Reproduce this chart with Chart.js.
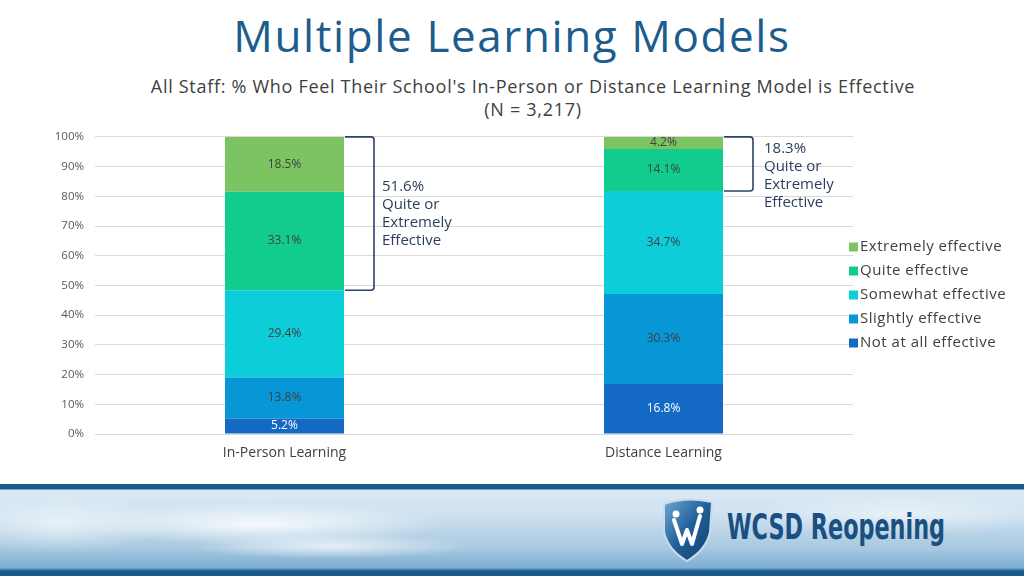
<!DOCTYPE html>
<html>
<head>
<meta charset="utf-8">
<script src="https://cdn.jsdelivr.net/npm/chart.js@4.4.1/dist/chart.umd.min.js"></script>
<style>
  html, body { margin: 0; padding: 0; }
  body { width: 1024px; height: 576px; overflow: hidden; background: #ffffff; position: relative; font-family: "Open Sans", "DejaVu Sans", sans-serif; }
  #title { position: absolute; left: 0; top: 7px; width: 1024px; text-align: center; font-size: 44px; line-height: 56px; color: #1d5d8d; font-weight: 400; letter-spacing: 1.6px; white-space: nowrap; }
  #subtitle { position: absolute; left: 21px; top: 75px; width: 1024px; text-align: center; font-size: 18px; line-height: 23px; color: #404040; letter-spacing: 0.7px; white-space: nowrap; }
  #chartWrap { position: absolute; left: 0; top: 119px; width: 1024px; height: 351px; }
  #footer { position: absolute; left: 0; top: 484px; width: 1024px; height: 92px; overflow: hidden;
    background:
      radial-gradient(ellipse 260px 30px at 260px 40px, rgba(255,255,255,0.85), rgba(255,255,255,0) 70%),
      radial-gradient(ellipse 200px 18px at 330px 62px, rgba(255,255,255,0.7), rgba(255,255,255,0) 70%),
      radial-gradient(ellipse 160px 40px at 60px 40px, rgba(255,255,255,0.6), rgba(255,255,255,0) 70%),
      radial-gradient(ellipse 220px 30px at 900px 30px, rgba(255,255,255,0.5), rgba(255,255,255,0) 70%),
      linear-gradient(to bottom, #1b5a8a 0px, #1b5a8a 5px, #dbe9f4 6px, #cfe2f0 30px, #a7c8e0 65px, #7aaed2 84px, #1b5a8a 87px, #1b5a8a 92px);
  }
  #logo { position: absolute; left: 656px; top: 14px; width: 62px; height: 64px; }
  #brand { position: absolute; left: 727px; top: 20px; font-family: "Liberation Sans Narrow", "DejaVu Sans Condensed", "Liberation Sans", sans-serif; font-weight: 700; font-size: 36px; line-height: 46px; color: #1b4f82; white-space: nowrap; transform-origin: 0 0; }
</style>
</head>
<body>
<div id="title">Multiple Learning Models</div>
<div id="subtitle">All Staff: % Who Feel Their School's In-Person or Distance Learning Model is Effective<br>(N = 3,217)</div>
<div id="chartWrap"><canvas id="c" width="1024" height="351"></canvas></div>
<div id="footer">
  <svg id="logo" viewBox="0 0 62 64">
    <defs>
      <linearGradient id="sg" x1="0" y1="0" x2="1" y2="1">
        <stop offset="0" stop-color="#6fa7d3"/>
        <stop offset="0.5" stop-color="#1f5f98"/>
        <stop offset="1" stop-color="#123f6e"/>
      </linearGradient>
    </defs>
    <path d="M8 6 Q31 -2 56 4 L54 34 Q50 52 31 63 Q12 52 8 34 Z" fill="url(#sg)" stroke="#c9dbea" stroke-width="2"/>
    <path d="M18 22 L26 46 L31 32 L36 46 L44 18" fill="none" stroke="#ffffff" stroke-width="4" stroke-linecap="round" stroke-linejoin="round"/>
    <circle cx="20" cy="16" r="3.5" fill="#ffffff"/>
    <circle cx="44" cy="12" r="3.5" fill="#ffffff"/>
  </svg>
  <div id="brand">WCSD Reopening</div>
</div>
<script>
// ---- Data ----
const categories = ["In-Person Learning", "Distance Learning"];
const seriesNames = ["Not at all effective", "Slightly effective", "Somewhat effective", "Quite effective", "Extremely effective"];
const notAtAll = [5.2, 16.8];
const slightly = [13.8, 30.3];
const somewhat = [29.4, 34.7];
const quite = [33.1, 14.1];
const extremely = [18.5, 4.2];
const yTickValues = [0, 10, 20, 30, 40, 50, 60, 70, 80, 90, 100];
const bracketTotals = ["51.6%", "18.3%"];
const bracketText = ["Quite or", "Extremely", "Effective"];

// ---- Styles ----
const seriesColors = ["#1369c4", "#0797d6", "#0dced8", "#12cb8f", "#7cc462"];
const labelColors = ["#ffffff", "#404040", "#404040", "#404040", "#404040"];
const FONT = "'Open Sans', 'DejaVu Sans', sans-serif";

// fit brand text to target width
(function () {
  const b = document.getElementById('brand');
  const w = b.getBoundingClientRect().width;
  const target = 218;
  if (w > 0) b.style.transform = 'scaleX(' + (target / w) + ')';
})();

const seriesValues = [notAtAll, slightly, somewhat, quite, extremely];
const datasets = seriesValues.map((vals, i) => ({
  label: seriesNames[i],
  data: vals,
  backgroundColor: seriesColors[i],
  borderWidth: 0,
  categoryPercentage: 1.0,
  barPercentage: 0.314
}));

// value labels inside segments
const valueLabels = {
  id: 'valueLabels',
  afterDatasetsDraw(chart) {
    const ctx = chart.ctx;
    ctx.save();
    ctx.font = "12px " + FONT;
    ctx.textAlign = 'center';
    ctx.textBaseline = 'middle';
    chart.data.datasets.forEach((ds, di) => {
      const meta = chart.getDatasetMeta(di);
      meta.data.forEach((bar, j) => {
        const v = ds.data[j];
        const yMid = (bar.y + bar.base) / 2;
        ctx.fillStyle = labelColors[di];
        ctx.fillText(v.toFixed(1) + '%', bar.x, yMid);
      });
    });
    ctx.restore();
  }
};

// brackets for "Quite or Extremely Effective"
const brackets = {
  id: 'brackets',
  afterDatasetsDraw(chart) {
    const ctx = chart.ctx;
    const y = chart.scales.y;
    const nSeries = chart.data.datasets.length;
    ctx.save();
    categories.forEach((cat, j) => {
      let bottomVal = 0;
      for (let d = 0; d < nSeries - 2; d++) bottomVal += chart.data.datasets[d].data[j];
      let topVal = bottomVal;
      for (let d = nSeries - 2; d < nSeries; d++) topVal += chart.data.datasets[d].data[j];
      const topBar = chart.getDatasetMeta(nSeries - 1).data[j];
      const xR = topBar.x + topBar.width / 2 + 1;
      const yT = y.getPixelForValue(Math.min(topVal, 100));
      const yB = y.getPixelForValue(bottomVal);
      const xV = xR + 29;
      const r = 3;
      ctx.strokeStyle = '#2c416c';
      ctx.lineWidth = 1.6;
      ctx.beginPath();
      ctx.moveTo(xR, yT);
      ctx.lineTo(xV - r, yT);
      ctx.quadraticCurveTo(xV, yT, xV, yT + r);
      ctx.lineTo(xV, yB - r);
      ctx.quadraticCurveTo(xV, yB, xV - r, yB);
      ctx.lineTo(xR, yB);
      ctx.stroke();
      const lines = [bracketTotals[j]].concat(bracketText);
      const lh = 18;
      ctx.font = "15px " + FONT;
      ctx.fillStyle = '#2c3e5c';
      ctx.textAlign = 'left';
      ctx.textBaseline = 'middle';
      const xT = xV + (j === 0 ? 8 : 11);
      let y0;
      if (j === 0) {
        y0 = (yT + yB) / 2 - lh * (lines.length - 1) / 2;
      } else {
        y0 = yT + 12;
      }
      lines.forEach((t, k) => ctx.fillText(t, xT, y0 + k * lh));
    });
    ctx.restore();
  }
};

// custom legend at right
const sideLegend = {
  id: 'sideLegend',
  afterDraw(chart) {
    const ctx = chart.ctx;
    const ds = chart.data.datasets;
    ctx.save();
    ctx.font = "15px " + FONT;
    try { ctx.letterSpacing = '0.5px'; } catch (e) {}
    ctx.textAlign = 'left';
    ctx.textBaseline = 'middle';
    const x0 = 849, yStart = 128, step = 24;
    for (let k = 0; k < ds.length; k++) {
      const d = ds[ds.length - 1 - k];
      const yy = yStart + k * step;
      ctx.fillStyle = d.backgroundColor;
      ctx.fillRect(x0, yy - 4.5, 9, 9);
      ctx.fillStyle = '#404040';
      ctx.fillText(d.label, x0 + 11, yy);
    }
    ctx.restore();
  }
};

new Chart(document.getElementById('c'), {
  type: 'bar',
  data: { labels: categories, datasets: datasets },
  plugins: [valueLabels, brackets, sideLegend],
  options: {
    responsive: false,
    animation: false,
    devicePixelRatio: 1,
    layout: { padding: { left: 0, right: 171, top: 5, bottom: 0 } },
    plugins: {
      legend: { display: false },
      tooltip: { enabled: false },
      title: { display: false }
    },
    scales: {
      x: {
        stacked: true,
        grid: { display: false, drawTicks: false },
        border: { display: false },
        ticks: { color: '#404040', font: { family: FONT, size: 14 }, padding: 11 },
        afterFit(scale) { scale.height = 36; }
      },
      y: {
        stacked: true,
        min: 0,
        max: 100,
        afterBuildTicks(scale) { scale.ticks = yTickValues.map(v => ({ value: v })); },
        grid: { color: '#d9d9d9', lineWidth: 1, drawTicks: false },
        border: { display: false },
        ticks: {
          color: '#595959',
          font: { family: FONT, size: 11.5 },
          padding: 11,
          callback: (v) => v + '%'
        },
        afterFit(scale) { scale.width = 95; }
      }
    }
  }
});
</script>
</body>
</html>
